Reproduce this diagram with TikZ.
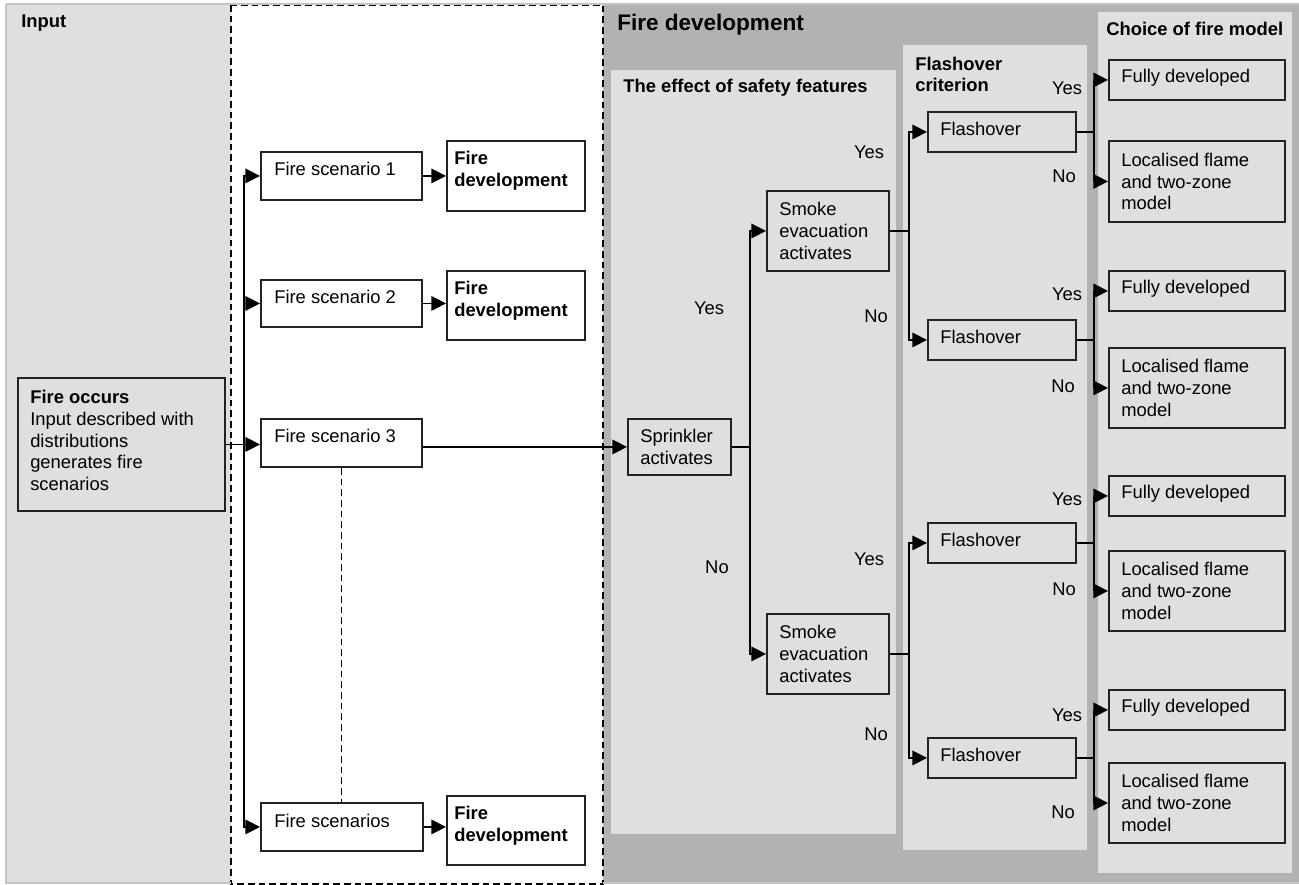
\documentclass[tikz,border=0pt]{standalone}
\usepackage{fontspec}
\setmainfont{Liberation Sans}
\usetikzlibrary{arrows.meta,calc}
\definecolor{lg}{HTML}{DFDFDF}
\definecolor{dg}{HTML}{B2B2B2}
\definecolor{bd}{HTML}{C4C4C4}
\definecolor{bx}{HTML}{222222}
\newcommand{\fs}{\fontsize{13.8pt}{16.3pt}\selectfont}
\newcommand{\fsbig}{\fontsize{16.9pt}{20pt}\selectfont}
% name, x, y, w, h, extra style, text dx, text dy, text
\newcommand{\bx}[9]{%
  \node[box,#6,minimum width=#4*0.75pt,minimum height=#5*0.75pt,anchor=north west] (#1) at (#2,#3) {};
  \node[txt,anchor=west] (#1t) at ($(#1.west)+(#7,#8)$) {#9};}
\begin{document}
\begin{tikzpicture}[x=0.75pt,y=-0.75pt,
  box/.style={draw=bx,line width=1.4pt,inner sep=0pt},
  txt/.style={inner sep=0pt,align=left,font=\fs},
  lbl/.style={inner sep=0pt,font=\fs},
  ttl/.style={inner sep=0pt,align=left,font=\fs\bfseries,anchor=west},
  ln/.style={line width=1pt,draw=black},
  arr/.style={line width=1pt,draw=black,-{Triangle[length=11pt,width=11pt]}},
  dsh/.style={line width=1pt,dash pattern=on 5pt off 3pt}]
\useasboundingbox (0,0) rectangle (1299,885);
% panels
\fill[dg] (603,4) rectangle (1299,883);
\fill[lg] (6,4) rectangle (231,883);
\fill[white] (231,5) rectangle (603,884);
\draw[dsh] (231,5) rectangle (603,884);
\draw[bd,line width=0.8pt] (6,4) -- (1299,4);
\draw[bd,line width=0.8pt] (6,4) -- (6,883) -- (231,883);
\draw[bd,line width=0.8pt] (603,883) -- (1299,883);
\fill[lg] (611,70) rectangle (896,834);
\fill[lg] (903,45) rectangle (1087,850);
\fill[lg] (1098,12) rectangle (1292,873);
% titles
\node[ttl] (tinput) at (21,23) {Input};
\node[ttl,font=\fsbig\bfseries] (tfire) at (617,25) {Fire development};
\node[ttl] (tsafe) at (623,88) {The effect of safety features};
\node[ttl] (tflash) at (915,74.5) {Flashover\\criterion};
\node[ttl] (tchoice) at (1106,29) {Choice of fire model};
% boxes
\bx{occ}{17}{377}{207}{133}{}{13}{-4}{\textbf{Fire occurs}\\Input described with\\distributions\\generates fire\\scenarios}
\bx{fs1}{260}{151}{161}{48}{fill=white}{14}{-7}{Fire scenario 1}
\bx{fs2}{260}{279}{161}{47}{fill=white}{14}{-7}{Fire scenario 2}
\bx{fs3}{260}{418}{161}{48}{fill=white}{14}{-7}{Fire scenario 3}
\bx{fs4}{260}{802}{162}{48}{fill=white}{14}{-6}{Fire scenarios}
\bx{fd1}{446}{140}{138}{70}{fill=white}{8}{-5}{\textbf{Fire}\\\textbf{development}}
\bx{fd2}{446}{270}{138}{69}{fill=white}{8}{-5}{\textbf{Fire}\\\textbf{development}}
\bx{fd4}{446}{795}{138}{69}{fill=white}{8}{-5}{\textbf{Fire}\\\textbf{development}}
\bx{spr}{627}{418}{103}{56}{}{13}{0}{Sprinkler\\activates}
\bx{se1}{766}{190}{122}{80}{}{13}{0}{Smoke\\evacuation\\activates}
\bx{se2}{766}{613}{122}{80}{}{13}{0}{Smoke\\evacuation\\activates}
\bx{fl1}{927}{111}{148}{40}{}{13}{-3}{Flashover}
\bx{fl2}{927}{319}{148}{40}{}{13}{-3}{Flashover}
\bx{fl3}{927}{522}{148}{40}{}{13}{-3}{Flashover}
\bx{fl4}{927}{737}{148}{40}{}{13}{-3}{Flashover}
\bx{dm1}{1108}{59}{176}{40}{}{13}{-2}{Fully developed}
\bx{dm2}{1108}{270}{176}{40}{}{13}{-2}{Fully developed}
\bx{dm3}{1108}{475}{176}{40}{}{13}{-2}{Fully developed}
\bx{dm4}{1108}{689}{176}{40}{}{13}{-2}{Fully developed}
\bx{lc1}{1108}{140}{176}{81}{}{13}{0}{Localised flame\\and two-zone\\model}
\bx{lc2}{1108}{347}{176}{80}{}{13}{0}{Localised flame\\and two-zone\\model}
\bx{lc3}{1108}{550}{176}{80}{}{13}{0}{Localised flame\\and two-zone\\model}
\bx{lc4}{1108}{762}{176}{80}{}{13}{0}{Localised flame\\and two-zone\\model}
% connectors: input to scenarios
\coordinate (j0) at ($(occ.east)+(18,0)$);
\draw[arr] (occ.east) -- (occ.east -| fs3.west);
\draw[arr] (j0) |- (fs1.west);
\draw[arr] (j0) |- (fs2.west);
\draw[arr] (j0) |- (fs4.west);
\draw[arr] (fs1.east) -- (fs1.east -| fd1.west);
\draw[arr] (fs2.east) -- (fs2.east -| fd2.west);
\draw[arr] (fs4.east) -- (fs4.east -| fd4.west);
\draw[dsh] (fs3.south) -- (fs3.south |- fs4.north);
\draw[arr] (spr.west -| fs3.east) -- (spr.west);
% sprinkler
\coordinate (j1) at ($(spr.east)+(18,0)$);
\draw[ln] (spr.east) -- (j1);
\draw[arr] (j1) |- (se1.west);
\draw[arr] (j1) |- (se2.west);
% smoke evacuation
\coordinate (j2) at ($(se1.east)+(19,0)$);
\draw[ln] (se1.east) -- (j2);
\draw[arr] (j2) |- (fl1.west);
\draw[arr] (j2) |- (fl2.west);
\coordinate (j3) at ($(se2.east)+(19,0)$);
\draw[ln] (se2.east) -- (j3);
\draw[arr] (j3) |- (fl3.west);
\draw[arr] (j3) |- (fl4.west);
% flashover
\foreach \i in {1,2,3,4}{
  \coordinate (k\i) at ($(fl\i.east)+(17,0)$);
  \draw[ln] (fl\i.east) -- (k\i);
  \draw[arr] (k\i) |- (dm\i.west);
  \draw[arr] (k\i) |- (lc\i.west);
}
% labels
\node[lbl] (ya) at (709,308) {Yes};
\node[lbl] (na) at (717,567) {No};
\node[lbl] (yb) at (869,152) {Yes};
\node[lbl] (nb) at (876,316) {No};
\node[lbl] (yc) at (869,559) {Yes};
\node[lbl] (nc) at (876,734) {No};
\node[lbl] (y1) at (1067,88) {Yes};
\node[lbl] (n1) at (1064,176) {No};
\node[lbl] (y2) at (1067,294) {Yes};
\node[lbl] (n2) at (1063,386) {No};
\node[lbl] (y3) at (1067,499) {Yes};
\node[lbl] (n3) at (1064,589) {No};
\node[lbl] (y4) at (1067,715) {Yes};
\node[lbl] (n4) at (1063,812) {No};
\end{tikzpicture}
\end{document}
